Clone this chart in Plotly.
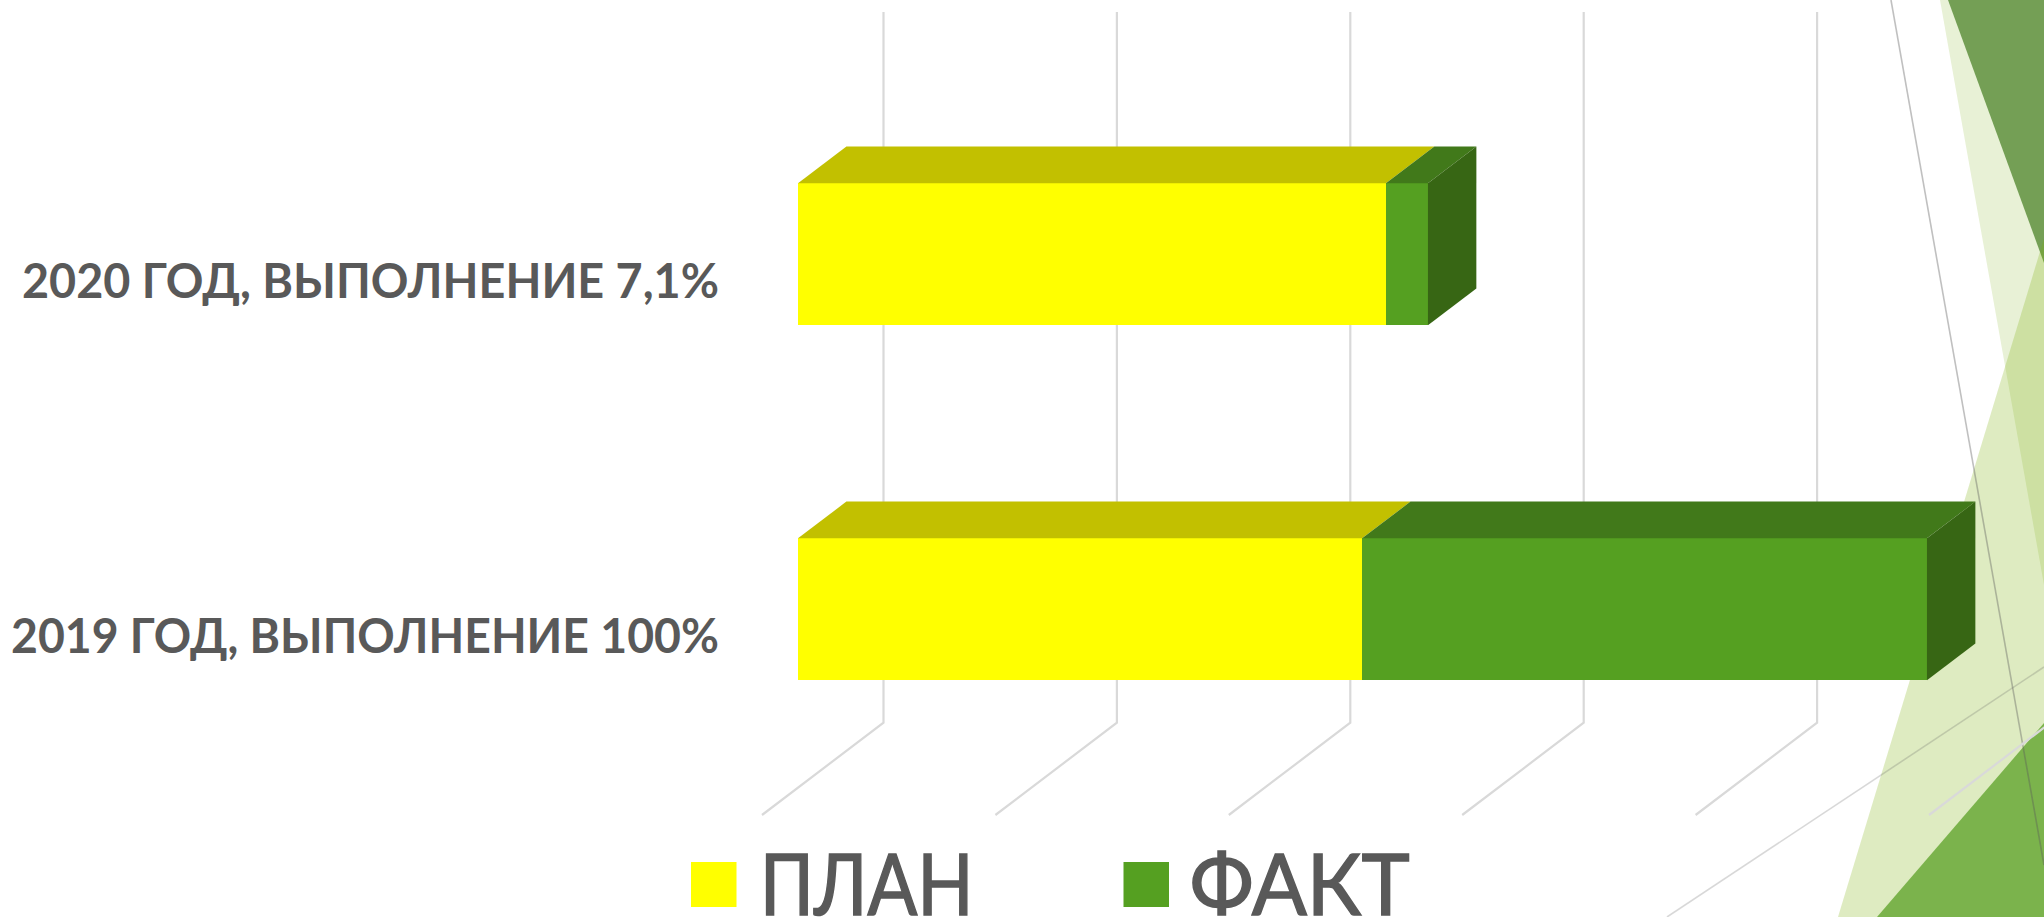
import plotly.graph_objects as go

# ---- data -------------------------------------------------------------
category_labels = ["2019 ГОД, ВЫПОЛНЕНИЕ 100%", "2020 ГОД, ВЫПОЛНЕНИЕ 7,1%"]
category_pos = [0, 1]
series_names = ["ПЛАН", "ФАКТ"]
plan_values = [2.417, 2.519]
fact_values = [2.420, 0.180]
grid_ticks = [0, 1, 2, 3, 4, 5]

# ---- styles -----------------------------------------------------------
W, H = 2044, 917
PLOT_L = 724
X_PX, X0_PX = 233.4, 798.0     # px per unit, px of value 0 on the bar front plane
Y_PX, Y0_PX = 355.0, 636.0     # px per category, px of category 0 label
FACE = ["#FFFF00", "#55A021"]
TOP = ["#C2C000", "#41791A"]
SIDE = "#376614"
GRID = "#D9D9D9"
TEXT = "#595959"
LABEL_FONT = "Lato"
LEGEND_FONT = "Lato"

BAR_H = 0.40
BAR_LIFT = 0.0752
DEPTH_X = 48.4 / X_PX
DEPTH_Y = 36.7 / Y_PX
FLOOR_FRONT_X = (762 - X0_PX) / X_PX
WALL_X = (883.5 - X0_PX) / X_PX
FLOOR_FRONT_Y = (Y0_PX - 815) / Y_PX
WALL_BOTTOM_Y = (Y0_PX - 722.7) / Y_PX
WALL_TOP_Y = (Y0_PX - 12) / Y_PX


def px(x):
    return (x - PLOT_L) / (W - PLOT_L)


def py(y):
    return 1 - y / H


fig = go.Figure()


def poly(xs, ys, color):
    fig.add_trace(go.Scatter(x=xs, y=ys, mode="lines", fill="toself", fillcolor=color,
                             line=dict(width=0), hoverinfo="skip", showlegend=False))


# top and side faces of the 3D bars
for pos, p, f in zip(category_pos, plan_values, fact_values):
    c = pos + BAR_LIFT
    top = c + BAR_H / 2
    bot = c - BAR_H / 2
    poly([0, p, p + DEPTH_X, DEPTH_X], [top, top, top + DEPTH_Y, top + DEPTH_Y], TOP[0])
    e = p + f
    poly([p, e, e + DEPTH_X, p + DEPTH_X], [top, top, top + DEPTH_Y, top + DEPTH_Y], TOP[1])
    poly([e, e + DEPTH_X, e + DEPTH_X, e],
         [top, top + DEPTH_Y, bot + DEPTH_Y, bot], SIDE)

# front faces
bar_y = [p + BAR_LIFT for p in category_pos]
for name, vals, col in zip(series_names, [plan_values, fact_values], FACE):
    fig.add_trace(go.Bar(name=name, x=vals, y=bar_y, orientation="h", width=BAR_H,
                         marker=dict(color=col, line=dict(width=0)), showlegend=False))

# slide decoration (background artwork)
decor = [
    ("M1940,0 L2044,0 L2044,585 Z", "#E8F1D6"),
    ("M1948,0 L2044,0 L2044,263 Z", "#749F55"),
    ("M1838,917 L2049,222 L2049,917 Z", "rgba(124,175,7,0.25)"),
    ("M1877,917 L2044,723 L2044,917 Z", "#7BB34C"),
]
shapes = []


def path_to_paper(path):
    out = []
    for tok in path.split():
        if tok == "Z":
            out.append("Z")
            continue
        cmd, rest = tok[0], tok[1:]
        x, y = rest.split(",")
        out.append(f"{cmd}{px(float(x)):.5f},{py(float(y)):.5f}")
    return " ".join(out)


for path, col in decor:
    shapes.append(dict(type="path", xref="paper", yref="paper", path=path_to_paper(path),
                       fillcolor=col, line=dict(width=0), layer="below"))
shapes.append(dict(type="line", xref="paper", yref="paper", layer="below",
                   x0=px(1891), y0=py(0), x1=px(2044), y1=py(865),
                   line=dict(color="rgba(90,90,90,0.38)", width=1.6)))
shapes.append(dict(type="line", xref="paper", yref="paper", layer="below",
                   x0=px(1667), y0=py(917), x1=px(2044), y1=py(667),
                   line=dict(color="rgba(90,90,90,0.24)", width=1.6)))

# gridlines: back wall + floor, behind the bars
for t in grid_ticks:
    shapes.append(dict(type="path", xref="x", yref="y", layer="below",
                       path=(f"M{t + WALL_X:.5f},{WALL_TOP_Y:.5f} "
                             f"L{t + WALL_X:.5f},{WALL_BOTTOM_Y:.5f} "
                             f"L{t + FLOOR_FRONT_X:.5f},{FLOOR_FRONT_Y:.5f}"),
                       line=dict(color=GRID, width=2.2)))

# legend
legend_swatch_x = [691, 1123.5]
legend_text_x = [866.75, 1300]
annotations = []
for name, col, sx, tx in zip(series_names, FACE, legend_swatch_x, legend_text_x):
    shapes.append(dict(type="rect", xref="paper", yref="paper", layer="above",
                       x0=px(sx), x1=px(sx + 45.5), y0=py(907), y1=py(862),
                       fillcolor=col, line=dict(width=0)))
    annotations.append(dict(xref="paper", yref="paper", x=px(tx), y=py(881),
                            xanchor="center", yanchor="middle", text=name, showarrow=False,
                            borderpad=0, font=dict(family=LEGEND_FONT, size=86, color=TEXT)))

fig.update_layout(
    width=W, height=H,
    margin=dict(l=PLOT_L, r=0, t=0, b=0, pad=0, autoexpand=False),
    paper_bgcolor="white", plot_bgcolor="rgba(0,0,0,0)",
    barmode="stack", showlegend=False,
    shapes=shapes, annotations=annotations,
    xaxis=dict(range=[(PLOT_L - X0_PX) / X_PX, (W - X0_PX) / X_PX], showgrid=False,
               zeroline=False, showticklabels=False, ticks="", showline=False, fixedrange=True),
    yaxis=dict(range=[(Y0_PX - H) / Y_PX, Y0_PX / Y_PX], showgrid=False, zeroline=False,
               tickmode="array", tickvals=category_pos, ticktext=category_labels,
               ticks="", showline=False, fixedrange=True, automargin=False,
               ticklabelstandoff=4,
               tickfont=dict(family=LABEL_FONT, size=48, color=TEXT, weight=700)),
)

# condensed lettering of the original: fit real text to its measured width
post = """
document.body.style.margin='0';document.body.style.overflow='hidden';
var fit={'ПЛАН':214,'ФАКТ':220,'2019 ГОД, ВЫПОЛНЕНИЕ 100%':708,'2020 ГОД, ВЫПОЛНЕНИЕ 7,1%':697};
document.querySelectorAll('svg text').forEach(function(t){
  var k=t.textContent.trim(), w=fit[k];
  if(w){t.setAttribute('textLength',w);t.setAttribute('lengthAdjust','spacingAndGlyphs');}
  if(k==='ПЛАН'||k==='ФАКТ'){t.style.stroke='#595959';t.style.strokeWidth='1.5px';}
});
"""
fig.write_html("out.html", config={"displayModeBar": False}, post_script=post)
